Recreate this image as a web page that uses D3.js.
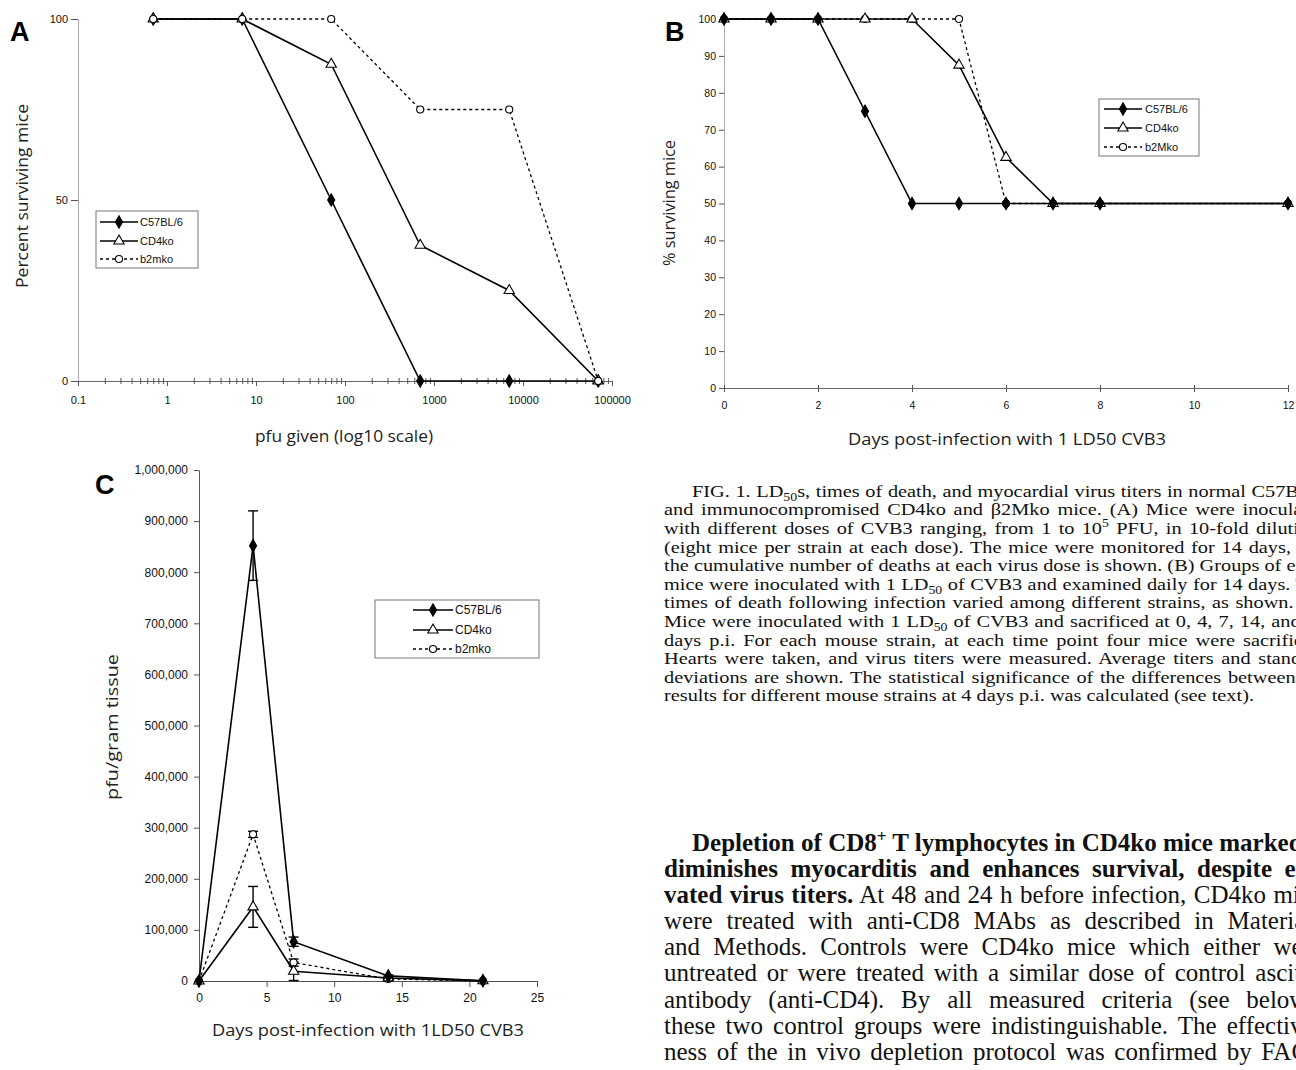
<!DOCTYPE html>
<html>
<head>
<meta charset="utf-8">
<script src="https://cdn.jsdelivr.net/npm/d3@7"></script>
<style>
  body { margin: 0; background: #fff; width: 1296px; height: 1070px; overflow: hidden; position: relative; }
  svg { position: absolute; left: 0; top: 0; }
  .ln { position: absolute; left: 664px; text-align: justify; text-align-last: justify;
        font-family: "Liberation Serif", "Times New Roman", serif; color: #111; transform-origin: 0 0; }
  .ln.last { text-align-last: left; }
  .ln sub, .ln sup { font-size: 68%; line-height: 0; }
  .tick text { font-family: "Liberation Sans", Arial, sans-serif; fill: #111; }
  .ttl { font-family: "Open Sans", "DejaVu Sans", sans-serif; font-weight: 400; fill: #222; }
  .leg { font-family: "Liberation Sans", Arial, sans-serif; font-size: 11px; fill: #111; }
  .plabel { font-family: "Liberation Sans", Arial, sans-serif; font-weight: bold; font-size: 27px; fill: #000; }
</style>
</head>
<body>
<script>
// ---- panel A: survival vs dose
const doseA = [0.7, 7, 70, 700, 7000, 70000];
const aC57 = [100, 100, 50, 0, 0, 0];
const aCD4 = [100, 100, 87.5, 37.5, 25, 0];
const aB2m = [100, 100, 100, 75, 75, 0];
const aXTicks = [0.1, 1, 10, 100, 1000, 10000, 100000];
const aYTicks = [0, 50, 100];
const aNames = ["C57BL/6", "CD4ko", "b2mko"];

// ---- panel B: survival vs day
const dayB = [0, 1, 2, 3, 4, 5, 6, 7, 8, 12];
const bC57 = [100, 100, 100, 75, 50, 50, 50, 50, 50, 50];
const bCD4 = [100, 100, 100, 100, 100, 87.5, 62.5, 50, 50, 50];
const bB2m = [100, 100, 100, 100, 100, 100, 50, 50, 50, 50];
const bXTicks = [0, 2, 4, 6, 8, 10, 12];
const bYTicks = [0, 10, 20, 30, 40, 50, 60, 70, 80, 90, 100];
const bNames = ["C57BL/6", "CD4ko", "b2Mko"];

// ---- panel C: heart virus titers
const dayC = [0, 4, 7, 14, 21];
const cC57 = [0, 852000, 77000, 10000, 500];
const cC57sd = [0, 68000, 9000, 2000, 0];
const cCD4 = [0, 145000, 19000, 6000, 300];
const cCD4sd = [0, 40000, 18000, 1000, 0];
const cB2m = [0, 287000, 36000, 4000, 200];
const cB2msd = [0, 6000, 7000, 1000, 0];
const cXTicks = [0, 5, 10, 15, 20, 25];
const cYTicks = [0, 100000, 200000, 300000, 400000, 500000, 600000, 700000, 800000, 900000, 1000000];
const cNames = ["C57BL/6", "CD4ko", "b2mko"];

// ---- text
const capLines = [
  "FIG. 1. LD<sub>50</sub>s, times of death, and myocardial virus titers in normal C57BL/6",
  "and immunocompromised CD4ko and β2Mko mice. (A) Mice were inoculated",
  "with different doses of CVB3 ranging, from 1 to 10<sup>5</sup> PFU, in 10-fold dilutions",
  "(eight mice per strain at each dose). The mice were monitored for 14 days, and",
  "the cumulative number of deaths at each virus dose is shown. (B) Groups of eight",
  "mice were inoculated with 1 LD<sub>50</sub> of CVB3 and examined daily for 14 days. The",
  "times of death following infection varied among different strains, as shown. (C)",
  "Mice were inoculated with 1 LD<sub>50</sub> of CVB3 and sacrificed at 0, 4, 7, 14, and 21",
  "days p.i. For each mouse strain, at each time point four mice were sacrificed.",
  "Hearts were taken, and virus titers were measured. Average titers and standard",
  "deviations are shown. The statistical significance of the differences between the",
  "results for different mouse strains at 4 days p.i. was calculated (see text)."
];
const bodyLines = [
  "<b>Depletion of CD8<sup>+</sup> T lymphocytes in CD4ko mice markedly</b>",
  "<b>diminishes myocarditis and enhances survival, despite ele-</b>",
  "<b>vated virus titers.</b> At 48 and 24 h before infection, CD4ko mice",
  "were treated with anti-CD8 MAbs as described in Materials",
  "and Methods. Controls were CD4ko mice which either were",
  "untreated or were treated with a similar dose of control ascites",
  "antibody (anti-CD4). By all measured criteria (see below),",
  "these two control groups were indistinguishable. The effective-",
  "ness of the in vivo depletion protocol was confirmed by FACS"
];

const svg = d3.select("body").append("svg").attr("width", 1296).attr("height", 1070);

const markerSym = {
  diamond: { type: d3.symbolDiamond, size: 44, fill: "#000" },
  triangle: { type: d3.symbolTriangle, size: 46, fill: "#fff" },
  circle: { type: d3.symbolCircle, size: 40, fill: "#fff" }
};

function styleAxis(sel, domainColor, fontSize) {
  sel.select(".domain").attr("stroke", domainColor).attr("stroke-width", 1);
  sel.selectAll(".tick line").attr("stroke", "#555");
  sel.selectAll(".tick text").style("font-size", fontSize + "px");
}

function drawLine(g, x, y, xs, ys, dashed) {
  g.append("path")
    .datum(xs.map((d, i) => [d, ys[i]]))
    .attr("fill", "none")
    .attr("stroke", "#000")
    .attr("stroke-width", dashed ? 1.3 : 1.6)
    .attr("stroke-dasharray", dashed ? "3,3" : null)
    .attr("d", d3.line().x(d => x(d[0])).y(d => y(d[1])));
}

function drawMarkers(g, x, y, xs, ys, kind) {
  const m = markerSym[kind];
  g.selectAll(null)
    .data(xs.map((d, i) => [d, ys[i]]))
    .join("path")
    .attr("transform", d => `translate(${x(d[0])},${y(d[1])})`)
    .attr("d", d3.symbol(m.type, m.size))
    .attr("fill", m.fill)
    .attr("stroke", "#000")
    .attr("stroke-width", 1.1);
}

function drawErrors(g, x, y, xs, ys, sds) {
  xs.forEach((d, i) => {
    if (!sds[i]) return;
    const cx = x(d), y1 = y(ys[i] + sds[i]), y2 = y(ys[i] - sds[i]);
    g.append("line").attr("x1", cx).attr("x2", cx).attr("y1", y1).attr("y2", y2)
      .attr("stroke", "#000").attr("stroke-width", 1.4);
    [y1, y2].forEach(yy => g.append("line")
      .attr("x1", cx - 5).attr("x2", cx + 5).attr("y1", yy).attr("y2", yy)
      .attr("stroke", "#000").attr("stroke-width", 1.4));
  });
}

// legend box: names, box rect, row y's, line x's, text x
function drawLegend(g, names, box, rows, lx1, lx2, tx, fontSize) {
  g.append("rect").attr("x", box[0]).attr("y", box[1])
    .attr("width", box[2] - box[0]).attr("height", box[3] - box[1])
    .attr("fill", "#fff").attr("stroke", "#777").attr("stroke-width", 1);
  const kinds = ["diamond", "triangle", "circle"];
  names.forEach((n, i) => {
    const ry = rows[i];
    g.append("line").attr("x1", lx1).attr("x2", lx2).attr("y1", ry).attr("y2", ry)
      .attr("stroke", "#000").attr("stroke-width", i === 2 ? 1.3 : 1.6)
      .attr("stroke-dasharray", i === 2 ? "3,3" : null);
    const m = markerSym[kinds[i]];
    g.append("path").attr("transform", `translate(${(lx1 + lx2) / 2},${ry})`)
      .attr("d", d3.symbol(m.type, m.size)).attr("fill", m.fill)
      .attr("stroke", "#000").attr("stroke-width", 1.1);
    g.append("text").attr("class", "leg").attr("x", tx).attr("y", ry)
      .attr("dy", "0.35em").style("font-size", fontSize + "px").text(n);
  });
}

function title(g, txt, cx, cy, len, rotate) {
  g.append("text").attr("class", "ttl")
    .attr("transform", `translate(${cx},${cy})` + (rotate ? " rotate(-90)" : ""))
    .attr("text-anchor", "middle").attr("dy", "0.35em")
    .style("font-size", "16px")
    .attr("textLength", len).attr("lengthAdjust", "spacingAndGlyphs")
    .text(txt);
}

// ================= panel A
const xA = d3.scaleLog().domain([0.1, 100000]).range([78, 612]);
const yA = d3.scaleLinear().domain([0, 100]).range([381, 19]);
const gA = svg.append("g");
const minorA = xA.ticks().filter(v => Math.abs(Math.log10(v) - Math.round(Math.log10(v))) > 1e-6);

gA.append("g").attr("transform", "translate(78,0)")
  .call(d3.axisLeft(yA).tickValues(aYTicks).tickSize(7).tickSizeOuter(0).tickPadding(3))
  .call(styleAxis, "#aaa", 11);
gA.append("g").attr("transform", "translate(0,381)")
  .call(d3.axisBottom(xA).tickValues(aXTicks).tickFormat(d => String(d)).tickSize(5).tickSizeOuter(0).tickPadding(10))
  .call(styleAxis, "#666", 11);
gA.append("g").attr("transform", "translate(0,381)")
  .call(d3.axisBottom(xA).tickValues(minorA).tickFormat("").tickSize(3).tickSizeOuter(0))
  .call(styleAxis, "none", 11);
gA.append("g").attr("transform", "translate(0,381)")
  .call(d3.axisTop(xA).tickValues(minorA).tickFormat("").tickSize(3).tickSizeOuter(0))
  .call(styleAxis, "none", 11);

drawLine(gA, xA, yA, doseA, aC57, false);
drawLine(gA, xA, yA, doseA, aCD4, false);
drawLine(gA, xA, yA, doseA, aB2m, true);
drawMarkers(gA, xA, yA, doseA, aC57, "diamond");
drawMarkers(gA, xA, yA, doseA, aCD4, "triangle");
drawMarkers(gA, xA, yA, doseA, aB2m, "circle");
drawLegend(gA, aNames, [96, 211, 198, 268], [222, 241, 259], 100, 138, 140, 11);
title(gA, "pfu given (log10 scale)", 344, 436, 178, false);
title(gA, "Percent surviving mice", 22, 196, 184, true);
gA.append("text").attr("class", "plabel").attr("x", 10).attr("y", 41).text("A");

// ================= panel B
const xB = d3.scaleLinear().domain([0, 12]).range([724, 1288]);
const yB = d3.scaleLinear().domain([0, 100]).range([388, 19]);
const gB = svg.append("g");
gB.append("g").attr("transform", "translate(724,0)")
  .call(d3.axisLeft(yB).tickValues(bYTicks).tickSize(5).tickSizeOuter(0).tickPadding(3))
  .call(styleAxis, "#aaa", 10.5);
gB.append("g").attr("transform", "translate(0,388)")
  .call(d3.axisBottom(xB).tickValues(bXTicks).tickSize(4).tickSizeOuter(0).tickPadding(10))
  .call(styleAxis, "#666", 10.5);
gB.append("g").attr("transform", "translate(0,388)")
  .call(d3.axisTop(xB).tickValues(bXTicks).tickFormat("").tickSize(3).tickSizeOuter(0))
  .call(styleAxis, "none", 10.5);

drawLine(gB, xB, yB, dayB, bC57, false);
drawLine(gB, xB, yB, dayB, bCD4, false);
drawLine(gB, xB, yB, dayB, bB2m, true);
drawMarkers(gB, xB, yB, dayB, bB2m, "circle");
drawMarkers(gB, xB, yB, dayB, bCD4, "triangle");
drawMarkers(gB, xB, yB, dayB, bC57, "diamond");
drawLegend(gB, bNames, [1099, 99, 1199, 156], [109, 128, 147], 1104, 1142, 1145, 11);
title(gB, "Days post-infection with 1 LD50 CVB3", 1007, 439, 318, false);
title(gB, "% surviving mice", 669, 203, 126, true);
gB.append("text").attr("class", "plabel").attr("x", 665).attr("y", 41).text("B");

// ================= panel C
const xC = d3.scaleLinear().domain([0, 25]).range([199, 537]);
const yC = d3.scaleLinear().domain([0, 1000000]).range([981, 470]);
const gC = svg.append("g");
gC.append("g").attr("transform", "translate(199,0)")
  .call(d3.axisLeft(yC).tickValues(cYTicks).tickFormat(d3.format(",")).tickSize(5).tickSizeOuter(0).tickPadding(6))
  .call(styleAxis, "#555", 12);
gC.append("g").attr("transform", "translate(0,981)")
  .call(d3.axisBottom(xC).tickValues(cXTicks).tickSize(6).tickSizeOuter(0).tickPadding(6))
  .call(styleAxis, "#555", 12);

drawLine(gC, xC, yC, dayC, cC57, false);
drawLine(gC, xC, yC, dayC, cCD4, false);
drawLine(gC, xC, yC, dayC, cB2m, true);
drawErrors(gC, xC, yC, dayC, cC57, cC57sd);
drawErrors(gC, xC, yC, dayC, cCD4, cCD4sd);
drawErrors(gC, xC, yC, dayC, cB2m, cB2msd);
drawMarkers(gC, xC, yC, dayC, cB2m, "circle");
drawMarkers(gC, xC, yC, dayC, cCD4, "triangle");
drawMarkers(gC, xC, yC, dayC, cC57, "diamond");
drawLegend(gC, cNames, [375, 600, 539, 658], [610, 630, 649], 413, 453, 455, 12);
title(gC, "Days post-infection with 1LD50 CVB3", 368, 1030, 312, false);
title(gC, "pfu/gram tissue", 112, 727, 146, true);
gC.append("text").attr("class", "plabel").attr("x", 95).attr("y", 494).text("C");

// ================= caption and body text (justified lines, cut by page edge)
// targetLast: visible width of the last (unjustified) line; the block is stretched
// horizontally to it, as in the scanned page
function setLines(cls, lines, top, lh, fontSize, targetLast) {
  const sel = d3.select("body").selectAll("div." + cls).data(lines).join("div")
    .attr("class", (d, i) => "ln " + cls + (i === lines.length - 1 && targetLast ? " last" : ""))
    .style("top", (d, i) => (top + i * lh - lh / 2) + "px")
    .style("line-height", lh + "px")
    .style("white-space", "nowrap")
    .style("font-size", fontSize + "px")
    .html(d => d);
  let k = 1;
  if (targetLast) {
    const lastNode = sel.nodes()[lines.length - 1];
    k = targetLast / lastNode.getBoundingClientRect().width;
  }
  sel.style("text-indent", (d, i) => i === 0 ? (28 / k) + "px" : "0px");
  const w = d3.max(sel.nodes(), n => n.getBoundingClientRect().width);
  sel.style("width", Math.ceil(w) + "px").style("white-space", "normal")
    .style("transform", `scaleX(${k})`);
}
setLines("cap", capLines, 492, 18.6, 16.8, 590);
setLines("bod", bodyLines, 843, 26.1, 25, null);
</script>
</body>
</html>
